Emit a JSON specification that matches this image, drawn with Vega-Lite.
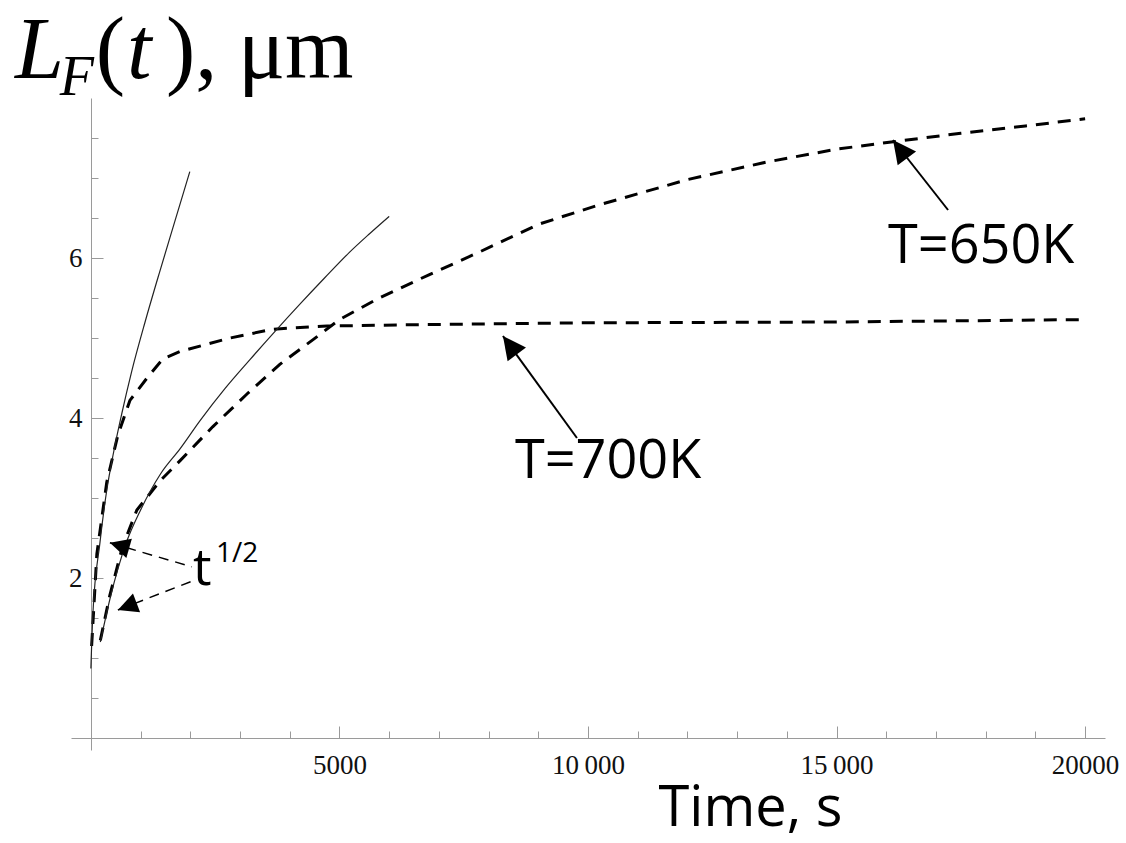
{
  "$schema": "https://vega.github.io/schema/vega-lite/v6.json",
  "width": 1034,
  "height": 652,
  "autosize": "none",
  "padding": {"left": 71, "top": 98, "right": 21, "bottom": 93},
  "background": "white",
  "config": {"view": {"stroke": null}, "axis": {"grid": false}},
  "layer": [
    {
      "data": {"values": [
        {"series": "650K", "t": 190, "v": 1.22}, {"series": "650K", "t": 380, "v": 1.78}, {"series": "650K", "t": 640, "v": 2.4},
        {"series": "650K", "t": 925, "v": 2.85}, {"series": "650K", "t": 1400, "v": 3.22}, {"series": "650K", "t": 1800, "v": 3.47},
        {"series": "650K", "t": 2450, "v": 3.89}, {"series": "650K", "t": 3140, "v": 4.3}, {"series": "650K", "t": 3800, "v": 4.67},
        {"series": "650K", "t": 4470, "v": 4.98}, {"series": "650K", "t": 5000, "v": 5.23}, {"series": "650K", "t": 5800, "v": 5.5},
        {"series": "650K", "t": 6800, "v": 5.79}, {"series": "650K", "t": 7800, "v": 6.07}, {"series": "650K", "t": 9000, "v": 6.42},
        {"series": "650K", "t": 10200, "v": 6.66}, {"series": "650K", "t": 12000, "v": 6.98}, {"series": "650K", "t": 13600, "v": 7.2},
        {"series": "650K", "t": 15000, "v": 7.36}, {"series": "650K", "t": 16100, "v": 7.45}, {"series": "650K", "t": 17500, "v": 7.56},
        {"series": "650K", "t": 18800, "v": 7.65}, {"series": "650K", "t": 20000, "v": 7.74},
        {"series": "700K", "t": 15, "v": 1.15}, {"series": "700K", "t": 120, "v": 2.3}, {"series": "700K", "t": 320, "v": 3.2},
        {"series": "700K", "t": 540, "v": 3.78}, {"series": "700K", "t": 785, "v": 4.22}, {"series": "700K", "t": 1130, "v": 4.5},
        {"series": "700K", "t": 1450, "v": 4.74}, {"series": "700K", "t": 1790, "v": 4.83}, {"series": "700K", "t": 2800, "v": 5.0},
        {"series": "700K", "t": 3660, "v": 5.11}, {"series": "700K", "t": 4750, "v": 5.15}, {"series": "700K", "t": 7000, "v": 5.17},
        {"series": "700K", "t": 10000, "v": 5.19}, {"series": "700K", "t": 15000, "v": 5.2}, {"series": "700K", "t": 20000, "v": 5.23}
      ]},
      "mark": {"type": "line", "strokeWidth": 3, "strokeDash": [13, 9], "color": "#000"},
      "encoding": {
        "x": {"field": "t", "type": "quantitative", "scale": {"domain": [-400, 20400], "nice": false, "zero": false},
          "axis": {"orient": "bottom", "offset": -12, "ticks": false, "values": [5000, 10000, 15000, 20000], "format": "d",
            "labelExpr": "datum.value == 10000 ? '10\u2009000' : datum.value == 15000 ? '15\u2009000' : datum.label",
            "labelFont": "Liberation Serif", "labelFontSize": 27, "labelColor": "#111", "labelPadding": 14, "labelFlush": false,
            "labelOverlap": false, "domainColor": "#9a9a9a", "domainWidth": 1,
            "title": "Time, s", "titleFont": "Open Sans", "titleFontSize": 56, "titleFontWeight": "normal", "titleColor": "#000",
            "titleX": 679, "titleY": 87, "titleAlign": "center", "titleBaseline": "alphabetic"}},
        "y": {"field": "v", "type": "quantitative", "scale": {"domain": [-0.15, 8], "nice": false, "zero": false},
          "axis": {"orient": "left", "offset": -20, "ticks": false, "values": [2, 4, 6], "format": "d",
            "labelFont": "Liberation Serif", "labelFontSize": 27, "labelColor": "#111", "labelPadding": 9,
            "labelOverlap": false, "domainColor": "#9a9a9a", "domainWidth": 1, "title": null}},
        "detail": {"field": "series"}
      }
    },
    {
      "data": {"values": [
        {"series": "s1", "t": 0, "v": 0.87}, {"series": "s1", "t": 40, "v": 1.55}, {"series": "s1", "t": 180, "v": 2.43},
        {"series": "s1", "t": 320, "v": 3.1}, {"series": "s1", "t": 450, "v": 3.55}, {"series": "s1", "t": 620, "v": 4.05},
        {"series": "s1", "t": 820, "v": 4.58}, {"series": "s1", "t": 1090, "v": 5.2}, {"series": "s1", "t": 1390, "v": 5.84},
        {"series": "s1", "t": 1690, "v": 6.46}, {"series": "s1", "t": 1990, "v": 7.08},
        {"series": "s2", "t": 190, "v": 1.2}, {"series": "s2", "t": 400, "v": 1.78}, {"series": "s2", "t": 700, "v": 2.42},
        {"series": "s2", "t": 1000, "v": 2.85}, {"series": "s2", "t": 1400, "v": 3.3}, {"series": "s2", "t": 1800, "v": 3.62},
        {"series": "s2", "t": 2200, "v": 3.97}, {"series": "s2", "t": 2700, "v": 4.37}, {"series": "s2", "t": 3200, "v": 4.73},
        {"series": "s2", "t": 3700, "v": 5.08}, {"series": "s2", "t": 4200, "v": 5.42}, {"series": "s2", "t": 4700, "v": 5.75},
        {"series": "s2", "t": 5200, "v": 6.07}, {"series": "s2", "t": 5600, "v": 6.3}, {"series": "s2", "t": 6000, "v": 6.52}
      ]},
      "mark": {"type": "line", "strokeWidth": 1.2, "color": "#222", "interpolate": "monotone"},
      "encoding": {
        "x": {"field": "t", "type": "quantitative", "scale": {"domain": [-400, 20400], "nice": false, "zero": false},
          "axis": {"orient": "bottom", "offset": -24, "domain": false, "labels": false, "ticks": true, "tickSize": 12,
            "tickColor": "#9a9a9a", "tickWidth": 1, "values": [5000, 10000, 15000, 20000], "title": null}},
        "y": {"field": "v", "type": "quantitative", "scale": {"domain": [-0.15, 8], "nice": false, "zero": false},
          "axis": {"orient": "left", "offset": -32, "domain": false, "labels": false, "ticks": true, "tickSize": 12,
            "tickColor": "#9a9a9a", "tickWidth": 1, "values": [2, 4, 6], "title": null}},
        "detail": {"field": "series"}
      }
    },
    {
      "data": {"values": [
        {"arrow": "650K", "t": 17243, "v": 6.6}, {"arrow": "650K", "t": 16136, "v": 7.475},
        {"arrow": "700K", "t": 9778, "v": 3.75}, {"arrow": "700K", "t": 8289, "v": 5.025}
      ]},
      "mark": {"type": "line", "strokeWidth": 2, "color": "#000"},
      "encoding": {
        "x": {"field": "t", "type": "quantitative", "scale": {"domain": [-400, 20400], "nice": false, "zero": false},
          "axis": {"orient": "bottom", "offset": -19, "domain": false, "labels": false, "ticks": true, "tickSize": 7,
            "tickColor": "#9a9a9a", "tickWidth": 1,
            "values": [1000, 2000, 3000, 4000, 6000, 7000, 8000, 9000, 11000, 12000, 13000, 14000, 16000, 17000, 18000, 19000], "title": null}},
        "y": {"field": "v", "type": "quantitative", "scale": {"domain": [-0.15, 8], "nice": false, "zero": false},
          "axis": {"orient": "left", "offset": -27, "domain": false, "labels": false, "ticks": true, "tickSize": 7,
            "tickColor": "#9a9a9a", "tickWidth": 1,
            "values": [0.5, 1, 1.5, 2.5, 3, 3.5, 4.5, 5, 5.5, 6.5, 7, 7.5], "title": null}},
        "detail": {"field": "arrow"}
      }
    },
    {
      "data": {"values": [
        {"arrow": "upper", "t": 2032, "v": 2.14}, {"arrow": "upper", "t": 382, "v": 2.44},
        {"arrow": "lower", "t": 2032, "v": 1.96}, {"arrow": "lower", "t": 543, "v": 1.6}
      ]},
      "mark": {"type": "line", "strokeWidth": 1.5, "strokeDash": [10, 7], "color": "#000"},
      "encoding": {
        "x": {"field": "t", "type": "quantitative", "scale": {"domain": [-400, 20400], "nice": false, "zero": false}, "axis": null},
        "y": {"field": "v", "type": "quantitative", "scale": {"domain": [-0.15, 8], "nice": false, "zero": false}, "axis": null},
        "detail": {"field": "arrow"}
      }
    },
    {
      "data": {"values": [{"t": 16136, "v": 7.475}, {"t": 8289, "v": 5.025}]},
      "mark": {"type": "point", "shape": "M0,0L1,2L-1,2Z", "size": 529, "angle": 323, "filled": true, "color": "#000", "opacity": 1, "strokeWidth": 0},
      "encoding": {
        "x": {"field": "t", "type": "quantitative", "scale": {"domain": [-400, 20400], "nice": false, "zero": false}, "axis": null},
        "y": {"field": "v", "type": "quantitative", "scale": {"domain": [-0.15, 8], "nice": false, "zero": false}, "axis": null}
      }
    },
    {
      "data": {"values": [{"t": 382, "v": 2.44}]},
      "mark": {"type": "point", "shape": "M0,0L1,2L-1,2Z", "size": 400, "angle": 286, "filled": true, "color": "#000", "opacity": 1, "strokeWidth": 0},
      "encoding": {
        "x": {"field": "t", "type": "quantitative", "scale": {"domain": [-400, 20400], "nice": false, "zero": false}, "axis": null},
        "y": {"field": "v", "type": "quantitative", "scale": {"domain": [-0.15, 8], "nice": false, "zero": false}, "axis": null}
      }
    },
    {
      "data": {"values": [{"t": 543, "v": 1.6}]},
      "mark": {"type": "point", "shape": "M0,0L1,2L-1,2Z", "size": 400, "angle": 249, "filled": true, "color": "#000", "opacity": 1, "strokeWidth": 0},
      "encoding": {
        "x": {"field": "t", "type": "quantitative", "scale": {"domain": [-400, 20400], "nice": false, "zero": false}, "axis": null},
        "y": {"field": "v", "type": "quantitative", "scale": {"domain": [-0.15, 8], "nice": false, "zero": false}, "axis": null}
      }
    },
    {
      "data": {"values": [{"label": "T=650K", "t": 16036, "v": 5.94}, {"label": "T=700K", "t": 8531, "v": 3.25}]},
      "mark": {"type": "text", "align": "left", "baseline": "alphabetic", "font": "Open Sans", "fontSize": 54, "color": "#000"},
      "encoding": {
        "x": {"field": "t", "type": "quantitative", "scale": {"domain": [-400, 20400], "nice": false, "zero": false}, "axis": null},
        "y": {"field": "v", "type": "quantitative", "scale": {"domain": [-0.15, 8], "nice": false, "zero": false}, "axis": null},
        "text": {"field": "label"}
      }
    },
    {
      "data": {"values": [{"label": "t", "t": 2052, "v": 1.91}]},
      "mark": {"type": "text", "align": "left", "baseline": "alphabetic", "font": "Open Sans", "fontSize": 52, "color": "#000"},
      "encoding": {
        "x": {"field": "t", "type": "quantitative", "scale": {"domain": [-400, 20400], "nice": false, "zero": false}, "axis": null},
        "y": {"field": "v", "type": "quantitative", "scale": {"domain": [-0.15, 8], "nice": false, "zero": false}, "axis": null},
        "text": {"field": "label"}
      }
    },
    {
      "data": {"values": [{"label": "1/2", "t": 2515, "v": 2.2}]},
      "mark": {"type": "text", "align": "left", "baseline": "alphabetic", "font": "Open Sans", "fontSize": 28, "color": "#000"},
      "encoding": {
        "x": {"field": "t", "type": "quantitative", "scale": {"domain": [-400, 20400], "nice": false, "zero": false}, "axis": null},
        "y": {"field": "v", "type": "quantitative", "scale": {"domain": [-0.15, 8], "nice": false, "zero": false}, "axis": null},
        "text": {"field": "label"}
      }
    },
    {
      "data": {"values": [{"label": "L", "t": -1529, "v": 8.25}, {"label": "t", "t": 724, "v": 8.25}]},
      "mark": {"type": "text", "align": "left", "baseline": "alphabetic", "font": "Liberation Serif", "fontStyle": "italic", "fontSize": 88, "color": "#000"},
      "encoding": {
        "x": {"field": "t", "type": "quantitative", "scale": {"domain": [-400, 20400], "nice": false, "zero": false}, "axis": null},
        "y": {"field": "v", "type": "quantitative", "scale": {"domain": [-0.15, 8], "nice": false, "zero": false}, "axis": null},
        "text": {"field": "label"}
      }
    },
    {
      "data": {"values": [{"label": "(", "t": 100, "v": 8.25}, {"label": "),", "t": 1509, "v": 8.25}, {"label": "μm", "t": 2958, "v": 8.25}]},
      "mark": {"type": "text", "align": "left", "baseline": "alphabetic", "font": "Liberation Serif", "fontSize": 88, "color": "#000"},
      "encoding": {
        "x": {"field": "t", "type": "quantitative", "scale": {"domain": [-400, 20400], "nice": false, "zero": false}, "axis": null},
        "y": {"field": "v", "type": "quantitative", "scale": {"domain": [-0.15, 8], "nice": false, "zero": false}, "axis": null},
        "text": {"field": "label"}
      }
    },
    {
      "data": {"values": [{"label": "F", "t": -624, "v": 8.04}]},
      "mark": {"type": "text", "align": "left", "baseline": "alphabetic", "font": "Liberation Serif", "fontStyle": "italic", "fontSize": 56, "color": "#000"},
      "encoding": {
        "x": {"field": "t", "type": "quantitative", "scale": {"domain": [-400, 20400], "nice": false, "zero": false}, "axis": null},
        "y": {"field": "v", "type": "quantitative", "scale": {"domain": [-0.15, 8], "nice": false, "zero": false}, "axis": null},
        "text": {"field": "label"}
      }
    }
  ],
  "resolve": {"axis": {"x": "independent", "y": "independent"}}
}
